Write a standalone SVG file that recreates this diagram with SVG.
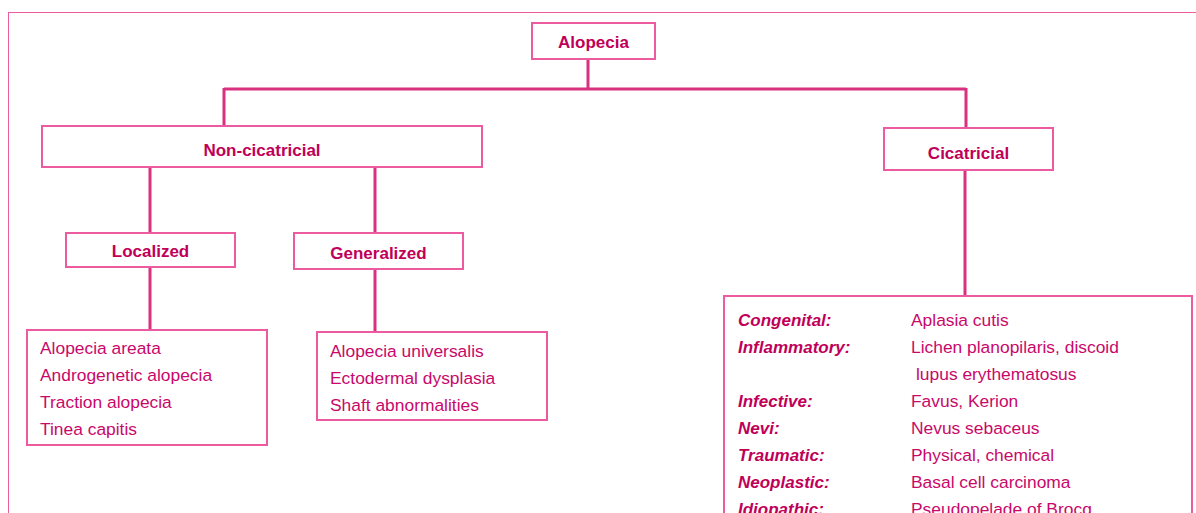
<svg xmlns="http://www.w3.org/2000/svg" width="1196" height="513" viewBox="0 0 1196 513">
<style>
.box{fill:#fff;stroke:#ec5a9f;stroke-width:2}
.con{fill:none;stroke:#d9307f;stroke-width:3}
.t{font-family:"Liberation Sans",Arial,sans-serif;font-size:17.4px;fill:#c8086a}
.h{font-size:17px;font-weight:bold;fill:#c00058;text-anchor:middle}
.lb{font-size:17px;font-weight:bold;font-style:italic;fill:#c00058}
</style>
<rect x="0" y="0" width="1196" height="513" fill="#fff"/>
<rect x="8.5" y="12.5" width="1200" height="520" fill="none" stroke="#ec5a9f" stroke-width="1"/>
<g id="connectors">
<path class="con" d="M588 59V89M224 89H966M224 88V126M966 88V128"/>
<path class="con" d="M150 167V233M375 167V233"/>
<path class="con" d="M150 267V330M375 269V332M965 170V296"/>
</g>
<g id="alopecia"><rect class="box" x="532" y="23" width="123" height="36"/><text class="t h" x="593.5" y="48">Alopecia</text></g>
<g id="noncicatricial"><rect class="box" x="42" y="126" width="440" height="41"/><text class="t h" x="262" y="156">Non-cicatricial</text></g>
<g id="cicatricial"><rect class="box" x="884" y="128" width="169" height="42"/><text class="t h" x="968.5" y="159">Cicatricial</text></g>
<g id="localized"><rect class="box" x="66" y="233" width="169" height="34"/><text class="t h" x="150.5" y="257">Localized</text></g>
<g id="generalized"><rect class="box" x="294" y="233" width="169" height="36"/><text class="t h" x="378.5" y="259">Generalized</text></g>
<g id="localized-list"><rect class="box" x="27" y="330" width="240" height="115"/>
<text class="t" x="40" y="354">Alopecia areata</text>
<text class="t" x="40" y="381">Androgenetic alopecia</text>
<text class="t" x="40" y="408">Traction alopecia</text>
<text class="t" x="40" y="435">Tinea capitis</text></g>
<g id="generalized-list"><rect class="box" x="317" y="332" width="230" height="88"/>
<text class="t" x="330" y="357">Alopecia universalis</text>
<text class="t" x="330" y="384">Ectodermal dysplasia</text>
<text class="t" x="330" y="411">Shaft abnormalities</text></g>
<g id="cicatricial-list"><rect class="box" x="724" y="296" width="468" height="240"/>
<text class="t lb" x="738" y="326">Congenital:</text><text class="t" x="911" y="326">Aplasia cutis</text>
<text class="t lb" x="738" y="353">Inflammatory:</text><text class="t" x="911" y="353">Lichen planopilaris, discoid</text>
<text class="t" x="916" y="380">lupus erythematosus</text>
<text class="t lb" x="738" y="407">Infective:</text><text class="t" x="911" y="407">Favus, Kerion</text>
<text class="t lb" x="738" y="434">Nevi:</text><text class="t" x="911" y="434">Nevus sebaceus</text>
<text class="t lb" x="738" y="461">Traumatic:</text><text class="t" x="911" y="461">Physical, chemical</text>
<text class="t lb" x="738" y="488">Neoplastic:</text><text class="t" x="911" y="488">Basal cell carcinoma</text>
<text class="t lb" x="738" y="515">Idiopathic:</text><text class="t" x="911" y="515">Pseudopelade of Brocq</text></g>
</svg>
